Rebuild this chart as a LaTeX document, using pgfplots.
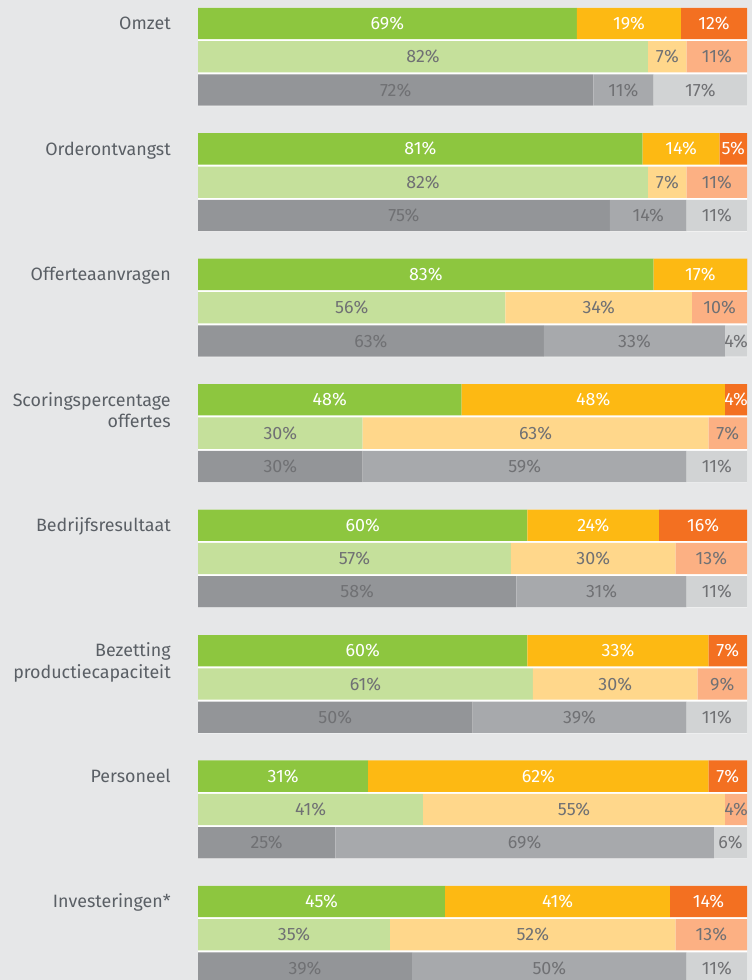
\documentclass[border=0pt]{standalone}
\usepackage{pgfplots}
\pgfplotsset{compat=1.18}
\usepackage{pgfplotstable}
\usepackage{fontspec}
\setmainfont{Fira Sans}
\definecolor{bg}{HTML}{E6E7E8}
\definecolor{cgreen}{HTML}{8DC63F}
\definecolor{cyel}{HTML}{FDB913}
\definecolor{cora}{HTML}{F37021}
\definecolor{lgreen}{HTML}{C5E09B}
\definecolor{lyel}{HTML}{FFD78B}
\definecolor{lora}{HTML}{FCB083}
\definecolor{dgray}{HTML}{939598}
\definecolor{mgray}{HTML}{A7A9AC}
\definecolor{lgray}{HTML}{D1D3D4}
\definecolor{txtgray}{HTML}{707174}
\definecolor{labc}{HTML}{5A5F65}

% group backing (white separators): center y, extent
\pgfplotstableread{
y x
57.05 100
182.48 100
307.91 100
433.34 100
558.77 100
684.20 100
809.63 100
935.06 100
}\backing

\pgfplotstableread{
y a b c
23.5 69 19 12
148.9 81 14 5
274.4 83 17 0
399.8 48 48 4
525.2 60 24 16
650.7 60 33 7
776.1 31 62 7
901.5 45 41 14
}\toprows

\pgfplotstableread{
y a b c
56.8 82 7 11
182.2 82 7 11
307.7 56 34 10
433.1 30 63 7
558.5 57 30 13
684.0 61 30 9
809.4 41 55 4
934.8 35 52 13
}\midrows

\pgfplotstableread{
y a b c
90.1 72 11 17
215.5 75 14 11
341.0 63 33 4
466.4 30 59 11
591.8 58 31 11
717.3 50 39 11
842.7 25 69 6
968.1 39 50 11
}\botrows

\newcommand{\pfont}{\fontsize{13.4}{15}\selectfont}

\pgfplotsset{
  base/.style={scale only axis, width=411.75pt, height=735pt,
    xmin=0, xmax=100, ymin=0, ymax=980, y dir=reverse, hide axis,
    bar width=31.3, at={(148.5pt,0pt)}, anchor=south west,
    /pgf/number format/assume math mode=true},
  seg/.style={xbar, stack plots=x, draw=none, fill=#1},
  lab/.style={draw=none, mark=none, stack plots=false, point meta=explicit,
    nodes near coords={\pgfmathfloatifflags{\pgfplotspointmeta}{0}{}{\pgfmathprintnumber{\pgfplotspointmeta}\%}},
    nodes near coords style={anchor=center, inner sep=0pt, font=\pfont, text=#1}},
}

\begin{document}
\begin{tikzpicture}
\useasboundingbox (0,0) rectangle (564pt,735pt);
\fill[bg] (0,0) rectangle (564pt,735pt);

% white backing + left labels
\begin{axis}[base, clip=false]
\addplot[xbar, draw=none, fill=white, bar width=98.2] table[x=x, y=y] {\backing};
\begin{scope}[every node/.style={anchor=base east, font=\pfont, text=labc, inner sep=0pt}]
\node[xshift=-20.25pt, yshift=-4.7pt] at (axis cs:0,23.5) {Omzet};
\node[xshift=-20.25pt, yshift=-4.7pt] at (axis cs:0,148.9) {Orderontvangst};
\node[xshift=-20.25pt, yshift=-4.7pt] at (axis cs:0,274.4) {Offerteaanvragen};
\node[xshift=-20.25pt, yshift=-4.7pt] at (axis cs:0,399.8) {Scoringspercentage};
\node[xshift=-20.25pt, yshift=-4.7pt] at (axis cs:0,421.3) {offertes};
\node[xshift=-20.25pt, yshift=-4.7pt] at (axis cs:0,525.2) {Bedrijfsresultaat};
\node[xshift=-20.25pt, yshift=-4.7pt] at (axis cs:0,650.7) {Bezetting};
\node[xshift=-20.25pt, yshift=-4.7pt] at (axis cs:0,672.2) {productiecapaciteit};
\node[xshift=-20.25pt, yshift=-4.7pt] at (axis cs:0,776.1) {Personeel};
\node[xshift=-20.25pt, yshift=-4.7pt] at (axis cs:0,901.5) {Investeringen*};
\end{scope}
\end{axis}

% top rows
\begin{axis}[base]
\addplot[seg=cgreen] table[x=a, y=y] {\toprows};
\addplot[seg=cyel] table[x=b, y=y] {\toprows};
\addplot[seg=cora] table[x=c, y=y] {\toprows};
\addplot[lab=white] table[x expr=\thisrow{a}/2, y=y, meta=a] {\toprows};
\addplot[lab=white] table[x expr=\thisrow{a}+\thisrow{b}/2, y=y, meta=b] {\toprows};
\addplot[lab=white] table[x expr=\thisrow{a}+\thisrow{b}+\thisrow{c}/2, y=y, meta=c] {\toprows};
\end{axis}

% middle rows
\begin{axis}[base]
\addplot[seg=lgreen] table[x=a, y=y] {\midrows};
\addplot[seg=lyel] table[x=b, y=y] {\midrows};
\addplot[seg=lora] table[x=c, y=y] {\midrows};
\addplot[lab=txtgray] table[x expr=\thisrow{a}/2, y=y, meta=a] {\midrows};
\addplot[lab=txtgray] table[x expr=\thisrow{a}+\thisrow{b}/2, y=y, meta=b] {\midrows};
\addplot[lab=txtgray] table[x expr=\thisrow{a}+\thisrow{b}+\thisrow{c}/2, y=y, meta=c] {\midrows};
\end{axis}

% bottom rows
\begin{axis}[base]
\addplot[seg=dgray] table[x=a, y=y] {\botrows};
\addplot[seg=mgray] table[x=b, y=y] {\botrows};
\addplot[seg=lgray] table[x=c, y=y] {\botrows};
\addplot[lab=txtgray] table[x expr=\thisrow{a}/2, y=y, meta=a] {\botrows};
\addplot[lab=txtgray] table[x expr=\thisrow{a}+\thisrow{b}/2, y=y, meta=b] {\botrows};
\addplot[lab=txtgray] table[x expr=\thisrow{a}+\thisrow{b}+\thisrow{c}/2, y=y, meta=c] {\botrows};
\end{axis}
\end{tikzpicture}
\end{document}
